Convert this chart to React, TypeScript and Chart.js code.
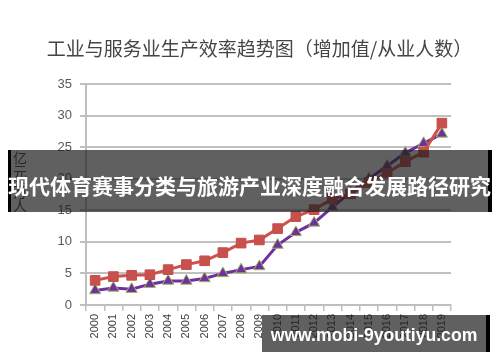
import React, { useEffect, useRef } from "react";
import { Chart, registerables } from "chart.js";

Chart.register(...registerables);

const years = [
  "2000", "2001", "2002", "2003", "2004", "2005", "2006", "2007", "2008", "2009",
  "2010", "2011", "2012", "2013", "2014", "2015", "2016", "2017", "2018", "2019",
];
const industryValues = [
  3.9, 4.5, 4.7, 4.8, 5.6, 6.4, 7.0, 8.3, 9.8, 10.3,
  12.1, 14.0, 15.1, 16.8, 17.6, 19.4, 20.9, 22.7, 24.2, 28.8,
];
const serviceValues = [
  2.3, 2.7, 2.5, 3.3, 3.8, 3.8, 4.2, 5.0, 5.6, 6.1,
  9.5, 11.5, 13.0, 15.5, 17.9, 20.0, 22.0, 24.1, 25.6, 27.1,
];
const yMin = 0;
const yMax = 35;
const yStep = 5;

const titleText = "工业与服务业生产效率趋势图（增加值/从业人数）";
const yTitleText = "亿元/万人";
const bannerText = "现代体育赛事分类与旅游产业深度融合发展路径研究";
const siteText = "www.mobi-9youtiyu.com";

export default function App() {
  const ref = useRef<HTMLCanvasElement | null>(null);

  useEffect(() => {
    if (!ref.current) return;
    const chart = new Chart(ref.current, {
      type: "line",
      data: {
        labels: years,
        datasets: [
          {
            label: "工业",
            data: industryValues,
            borderColor: "#d0504c",
            backgroundColor: "#c8514d",
            borderWidth: 3,
            pointStyle: "rect",
            pointRadius: 6.8,
            pointBorderColor: "#c34e4a",
            pointBackgroundColor: "#c8514d",
            pointBorderWidth: 1,
            tension: 0,
          },
          {
            label: "服务业",
            data: serviceValues,
            borderColor: "#7030a0",
            backgroundColor: "#7030a0",
            borderWidth: 3,
            pointStyle: "triangle",
            pointRadius: 6.5,
            pointBorderColor: "#9bbb59",
            pointBackgroundColor: "#7030a0",
            pointBorderWidth: 1,
            tension: 0,
          },
        ],
      },
      options: {
        animation: false,
        responsive: false,
        devicePixelRatio: 1,
        layout: { padding: { top: 84, right: 49, bottom: 0, left: 0 } },
        plugins: {
          legend: { display: false },
          title: { display: false },
          tooltip: { enabled: false },
        },
        scales: {
          x: {
            type: "category",
            offset: true,
            afterFit: (s: any) => {
              s.height = 57;
            },
            grid: {
              offset: true,
              drawOnChartArea: false,
              drawTicks: true,
              tickLength: 6,
              color: "#bfbfbf",
              lineWidth: 1.5,
            },
            border: { display: true, color: "#bfbfbf", width: 2 },
            ticks: {
              autoSkip: false,
              minRotation: 90,
              maxRotation: 90,
              padding: 3,
              color: "#404040",
              font: { family: "'Liberation Sans', Arial, sans-serif", size: 11 },
            },
          },
          y: {
            min: yMin,
            max: yMax,
            afterFit: (s: any) => {
              s.width = 86;
            },
            grid: {
              color: "#c0c0c0",
              lineWidth: 2,
              drawTicks: true,
              tickLength: 6,
            },
            border: { display: true, color: "#bfbfbf", width: 2 },
            ticks: {
              stepSize: yStep,
              padding: 8,
              color: "#595959",
              font: { family: "'Liberation Sans', Arial, sans-serif", size: 13 },
            },
          },
        },
      },
    });
    return () => chart.destroy();
  }, []);

  return (
    <div
      style={{
        position: "fixed",
        left: 0,
        top: 0,
        width: 500,
        height: 362,
        background: "#ffffff",
        overflow: "hidden",
      }}
    >
      <canvas ref={ref} width={500} height={362} style={{ width: 500, height: 362, display: "block" }} />
      <div
        style={{
          position: "absolute",
          left: 0,
          top: 34,
          width: 519,
          textAlign: "center",
          fontFamily: "'Noto Sans CJK SC', sans-serif",
          fontSize: 19,
          lineHeight: "28px",
          color: "#454545",
          whiteSpace: "nowrap",
        }}
      >
        {titleText}
      </div>
      <div
        style={{
          position: "absolute",
          left: 12,
          top: 151,
          writingMode: "vertical-rl",
          fontFamily: "'Noto Sans CJK SC', sans-serif",
          fontSize: 14,
          lineHeight: "16px",
          color: "#404040",
          whiteSpace: "nowrap",
        }}
      >
        {yTitleText}
      </div>
      <div
        style={{
          position: "absolute",
          left: 8,
          top: 150,
          width: 484,
          height: 62,
          boxSizing: "border-box",
          background: "rgba(28,28,28,0.7)",
          borderLeft: "3px solid #000",
          borderRight: "4px solid #000",
          display: "flex",
          alignItems: "center",
          justifyContent: "center",
          overflow: "visible",
        }}
      >
        <span
          style={{
            fontFamily: "'Noto Sans CJK SC', sans-serif",
            fontWeight: 700,
            fontSize: 21,
            lineHeight: "24px",
            color: "#ffffff",
            whiteSpace: "nowrap",
            marginTop: 7,
          }}
        >
          {bannerText}
        </span>
      </div>
      <div
        style={{
          position: "absolute",
          left: 262,
          top: 315,
          width: 228,
          height: 37,
          boxSizing: "border-box",
          background: "rgba(28,28,28,0.7)",
          borderRight: "4px solid #000",
          display: "flex",
          alignItems: "center",
          justifyContent: "center",
        }}
      >
        <span
          style={{
            fontFamily: "'Liberation Sans', Arial, sans-serif",
            fontWeight: 700,
            fontSize: 17.6,
            lineHeight: "20px",
            color: "#ffffff",
            whiteSpace: "nowrap",
            marginTop: 3,
          }}
        >
          {siteText}
        </span>
      </div>
    </div>
  );
}
